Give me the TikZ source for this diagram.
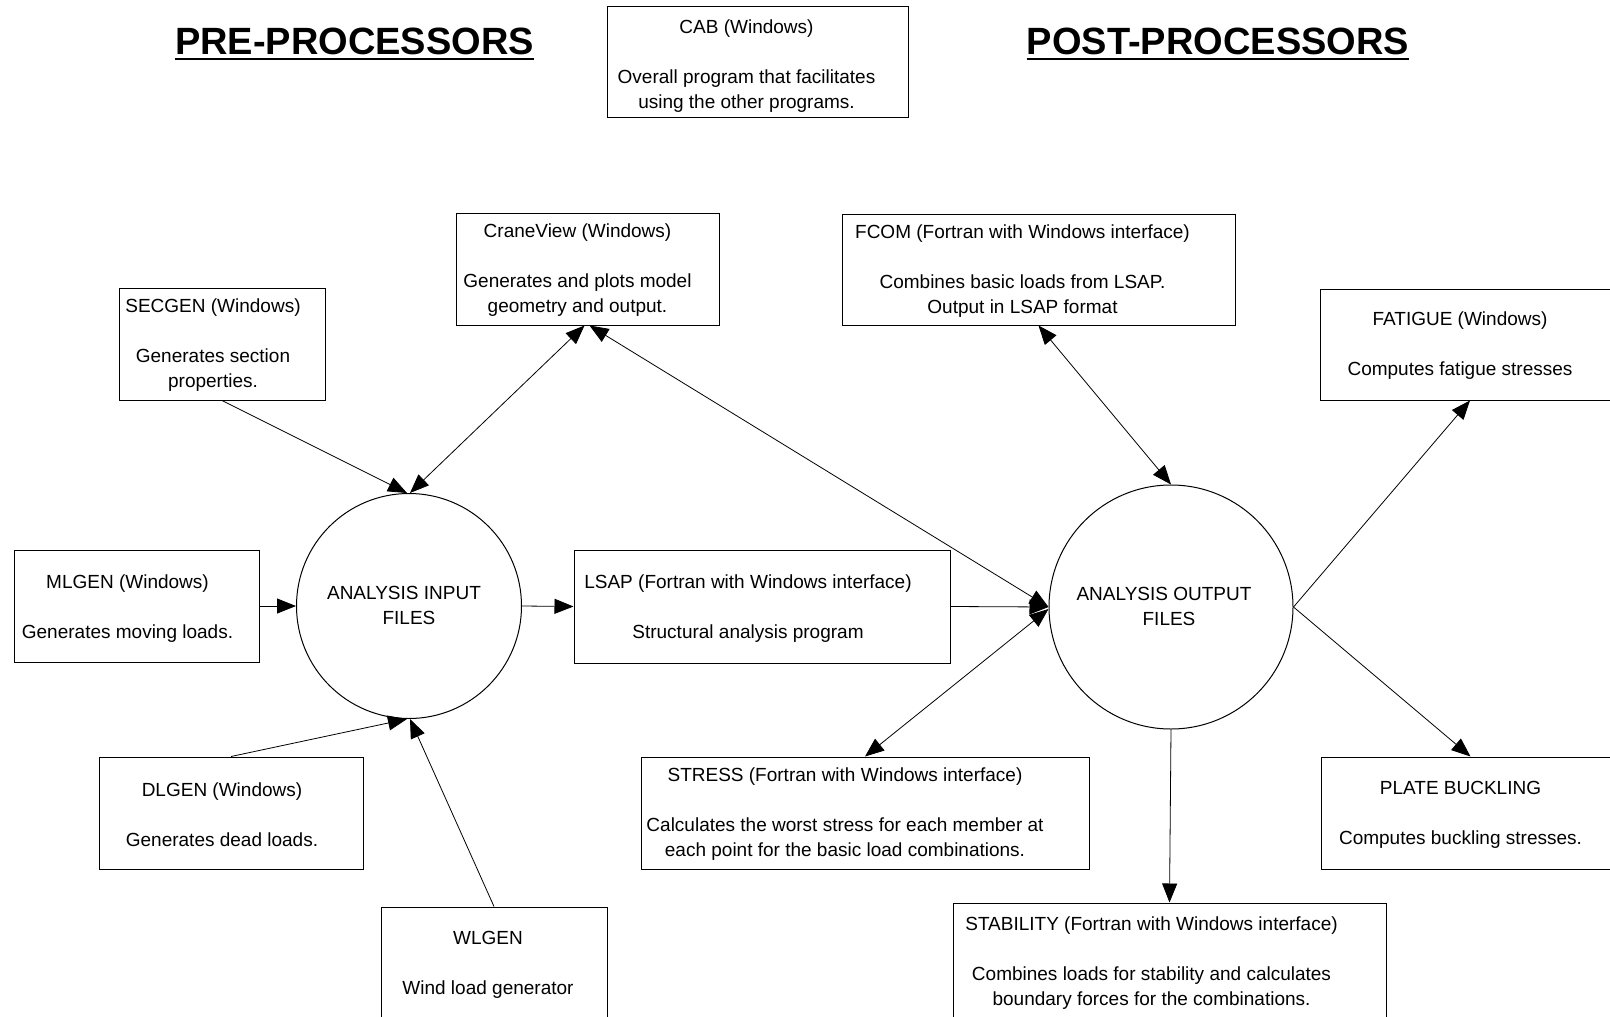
\documentclass[tikz,border=0pt]{standalone}
\usepackage{fontspec}
\setmainfont{Liberation Sans}
\usetikzlibrary{arrows.meta}
\tikzset{
  box/.style={draw, line width=1pt, inner sep=0pt},
  txt/.style={align=center, inner sep=0pt, yshift=-1.5pt, font=\fontsize{19}{25}\selectfont},
  ttl/.style={inner sep=0pt, font=\fontsize{38}{44}\selectfont\bfseries},
  circ/.style={draw, circle, line width=1pt, inner sep=0pt},
  tip/.tip={Triangle[length=19pt,width=15pt]},
  conn/.style={line width=0.8pt, -tip},
  bi/.style={line width=0.8pt, tip-tip},
}
\begin{document}
\begin{tikzpicture}[x=1pt,y=-1pt]
\useasboundingbox[fill=white] (0,0) rectangle (1610,1017);

% titles
\node[ttl, anchor=base] (pre) at (354.5,54) {PRE-PROCESSORS};
\node[ttl, anchor=base] (post) at (1218,54) {POST-PROCESSORS};
\draw[line width=2.6pt] ([yshift=-5pt]pre.base west) -- ([yshift=-5pt]pre.base east);
\draw[line width=2.6pt] ([yshift=-5pt]post.base west) -- ([yshift=-5pt]post.base east);

% boxes
\node[box, minimum width=301pt, minimum height=111pt] (cab) at (757.5,62) {};
\node[txt] at ([xshift=-11pt,yshift=-2.5pt]cab.center) {CAB (Windows)\\[25pt]Overall program that facilitates\\using the other programs.};

\node[box, minimum width=263pt, minimum height=112pt] (crane) at (587.5,269) {};
\node[txt] at ([xshift=-10pt]crane.center) {CraneView (Windows)\\[25pt]Generates and plots model\\geometry and output.};

\node[box, minimum width=393pt, minimum height=111pt] (fcom) at (1038.5,269.5) {};
\node[txt] at ([xshift=-16pt]fcom.center) {FCOM (Fortran with Windows interface)\\[25pt]Combines basic loads from LSAP.\\Output in LSAP format};

\node[box, minimum width=206pt, minimum height=112pt] (secgen) at (222,344) {};
\node[txt] at ([xshift=-9pt]secgen.center) {SECGEN (Windows)\\[25pt]Generates section\\properties.};

\node[box, minimum width=300pt, minimum height=111pt] (fatigue) at (1470,344.5) {};
\node[txt] at ([xshift=-10pt]fatigue.center) {FATIGUE (Windows)\\[25pt]Computes fatigue stresses};

\node[box, minimum width=245pt, minimum height=112pt] (mlgen) at (136.5,606) {};
\node[txt] at ([xshift=-9pt,yshift=-1pt]mlgen.center) {MLGEN (Windows)\\[25pt]Generates moving loads.};

\node[box, minimum width=376pt, minimum height=113pt] (lsap) at (762,606.5) {};
\node[txt] at ([xshift=-14pt,yshift=-1pt]lsap.center) {LSAP (Fortran with Windows interface)\\[25pt]Structural analysis program};

\node[box, minimum width=448pt, minimum height=112pt] (stress) at (865,813) {};
\node[txt] at ([xshift=-20pt]stress.center) {STRESS (Fortran with Windows interface)\\[25pt]Calculates the worst stress for each member at\\each point for the basic load combinations.};

\node[box, minimum width=264pt, minimum height=112pt] (dlgen) at (231,813) {};
\node[txt] at ([xshift=-9pt]dlgen.center) {DLGEN (Windows)\\[25pt]Generates dead loads.};

\node[box, minimum width=299pt, minimum height=112pt] (plate) at (1470.5,813) {};
\node[txt] at ([xshift=-10pt]plate.center) {PLATE BUCKLING\\[25pt]Computes buckling stresses.};

\node[box, minimum width=226pt, minimum height=112pt] (wlgen) at (494,963) {};
\node[txt] at ([xshift=-6pt]wlgen.center) {WLGEN\\[25pt]Wind load generator};

\node[box, minimum width=433pt, minimum height=117pt] (stab) at (1169.5,961.5) {};
\node[txt] at ([xshift=-18pt]stab.center) {STABILITY (Fortran with Windows interface)\\[25pt]Combines loads for stability and calculates\\boundary forces for the combinations.};

% circles
\node[circ, minimum size=225pt] (inp) at (409,606) {};
\node[txt] at ([xshift=-5pt,yshift=2pt]inp.center) {ANALYSIS INPUT\\\hspace*{10pt}FILES};
\node[circ, minimum size=244pt] (out) at (1171,607) {};
\node[txt] at ([xshift=-7pt,yshift=2pt]out.center) {ANALYSIS OUTPUT\\\hspace*{10pt}FILES};

% connectors
\draw[conn] (secgen.south) -- ([xshift=-2pt]inp.north);
\draw[bi] ([xshift=-3pt]crane.south) -- ([xshift=1pt]inp.north);
\draw[bi] ([xshift=2pt]crane.south) -- (out.west);
\draw[conn] (mlgen.east) -- (inp.west);
\draw[conn] (inp.east) -- (lsap.west);
\draw[conn] (lsap.east) -- (out.west);
\draw[conn] (dlgen.north) -- ([xshift=-2pt]inp.south);
\draw[conn] (wlgen.north) -- ([xshift=1pt]inp.south);
\draw[bi] (fcom.south) -- (out.north);
\draw[bi] (stress.north) -- ([yshift=-2pt]out.west);
\draw[conn] (out.east) -- (fatigue.south);
\draw[conn] (out.east) -- (plate.north);
\draw[conn] (out.south) -- (stab.north);
\end{tikzpicture}
\end{document}
